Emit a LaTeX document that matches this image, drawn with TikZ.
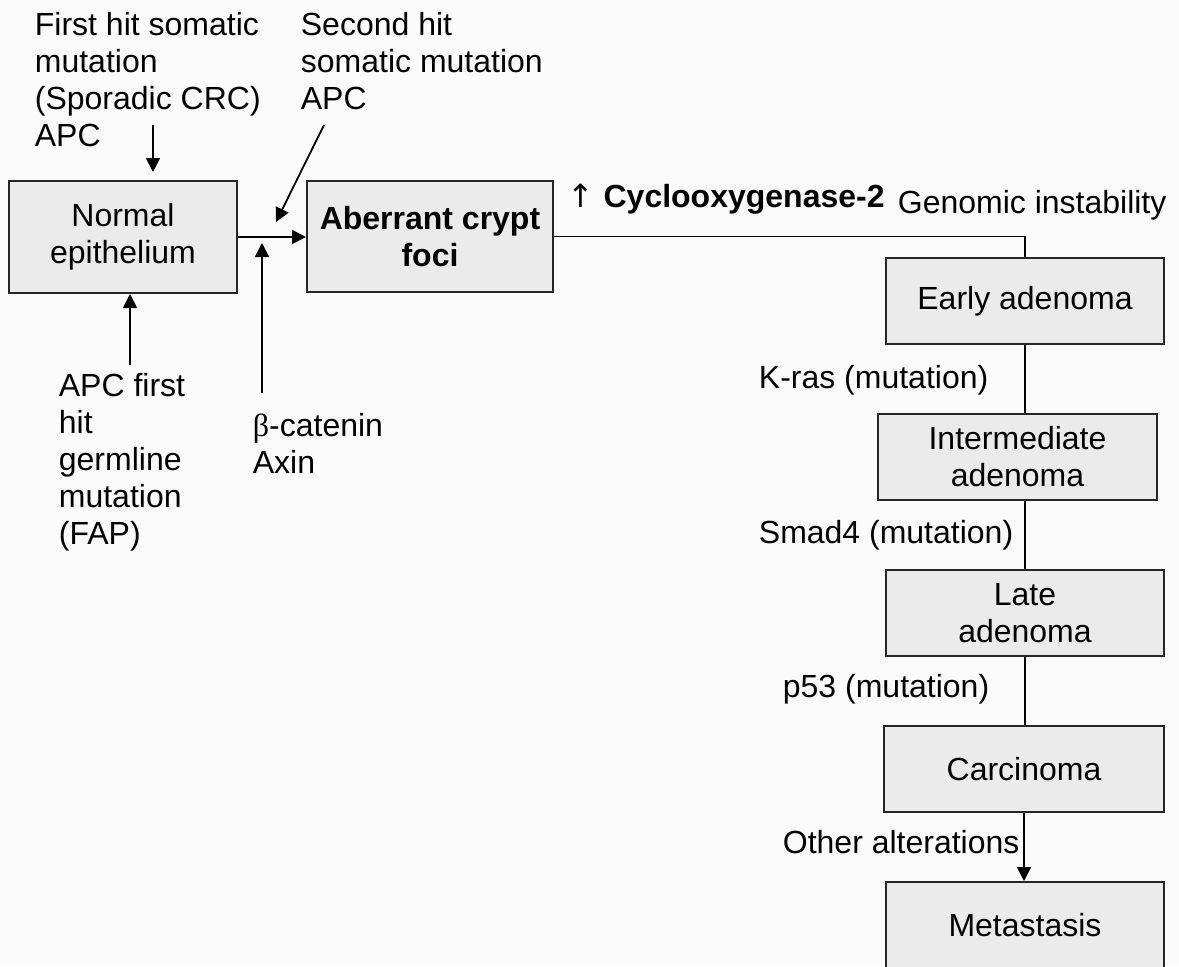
\documentclass[tikz,border=0pt]{standalone}
\usepackage{fontspec}
\setmainfont{Liberation Sans}
\newfontfamily\arrowfont{DejaVu Sans}
\newfontfamily\greekfont{Liberation Serif}
\usetikzlibrary{arrows.meta}
\definecolor{boxgray}{HTML}{EBEBEB}
\definecolor{pagebg}{HTML}{FBFBFB}
\tikzset{
  stage/.style = {
    draw=black!85, fill=boxgray, line width=1pt,
    align=center, inner sep=2pt
  },
  note/.style = {anchor=base west, inner sep=0pt},
  block/.style = {anchor=north west, align=left, inner sep=0pt}
}
\tikzset{>={Triangle[length=7pt,width=7pt]}}

\begin{document}
\begin{tikzpicture}[x=0.5pt,y=-0.5pt,font=\fontsize{16}{18.5}\selectfont,line width=0.9pt]
  \useasboundingbox (0,0) rectangle (1179,966);
  \fill[pagebg] (0,0) rectangle (1179,966);
  % stages
  \node[stage, minimum width=114pt, minimum height=56pt] (normal) at (123,237) {Normal\\epithelium};
  \node[stage, minimum width=123pt, minimum height=55.5pt, font=\fontsize{16}{18.5}\selectfont\bfseries] (aberrant) at (430,236.5) {Aberrant crypt\\foci};
  \node[stage, minimum width=139pt, minimum height=43pt] (early) at (1025,301) {Early adenoma};
  \node[stage, minimum width=139.5pt, minimum height=43pt] (inter) at (1017.5,457) {Intermediate\\adenoma};
  \node[stage, minimum width=139pt, minimum height=43pt] (late) at (1025,613) {Late\\adenoma};
  \node[stage, minimum width=140pt, minimum height=43pt] (carc) at (1024,769) {Carcinoma};
  \node[stage, minimum width=139pt, minimum height=43pt] (meta) at (1025,925) {Metastasis};
  % labels
  \node[block] (hitone) at (34,11) {First hit somatic\\mutation\\(Sporadic CRC)\\APC};
  \node[block] (hittwo) at (300,11) {Second hit\\somatic mutation\\APC};
  \node[block] (germ) at (58,372) {APC first\\hit\\germline\\mutation\\(FAP)};
  \node[block] (catenin) at (252,412) {{\greekfont β}-catenin\\Axin};
  \node[note] (cox) at (567,207) {{\arrowfont ↑} \textbf{Cyclooxygenase-2}};
  \node[note] (genomic) at (897,213) {Genomic instability};
  \node[note] (kras) at (758,388) {K-ras (mutation)};
  \node[note] (smad) at (758,543) {Smad4 (mutation)};
  \node[note] (pfiftythree) at (782,697) {p53 (mutation)};
  \node[note] (other) at (782,853) {Other alterations};
  % inputs
  \coordinate (somatic) at (153,125);
  \coordinate (second) at (324,125);
  \coordinate (secondtip) at (276,222);
  \coordinate (germfoot) at (130,365);
  \coordinate (cateninfoot) at (262,393);
  \draw[->,shorten >=4pt] (somatic) -- (somatic |- normal.north);
  \draw[->] (second) -- (secondtip);
  \draw[->] (germfoot) -- (germfoot |- normal.south);
  \draw[->,shorten >=3pt] (cateninfoot) -- (cateninfoot |- normal.east);
  % progression
  \draw[->] (normal.east) -- (normal.east -| aberrant.west);
  \draw (aberrant.east) -| (early.north);
  \draw (early.south) -- (early.south |- inter.north);
  \draw (late.north |- inter.south) -- (late.north);
  \draw (late.south) -- (late.south |- carc.north);
  \draw[->] (carc.south) -- (carc.south |- meta.north);
\end{tikzpicture}
\end{document}
